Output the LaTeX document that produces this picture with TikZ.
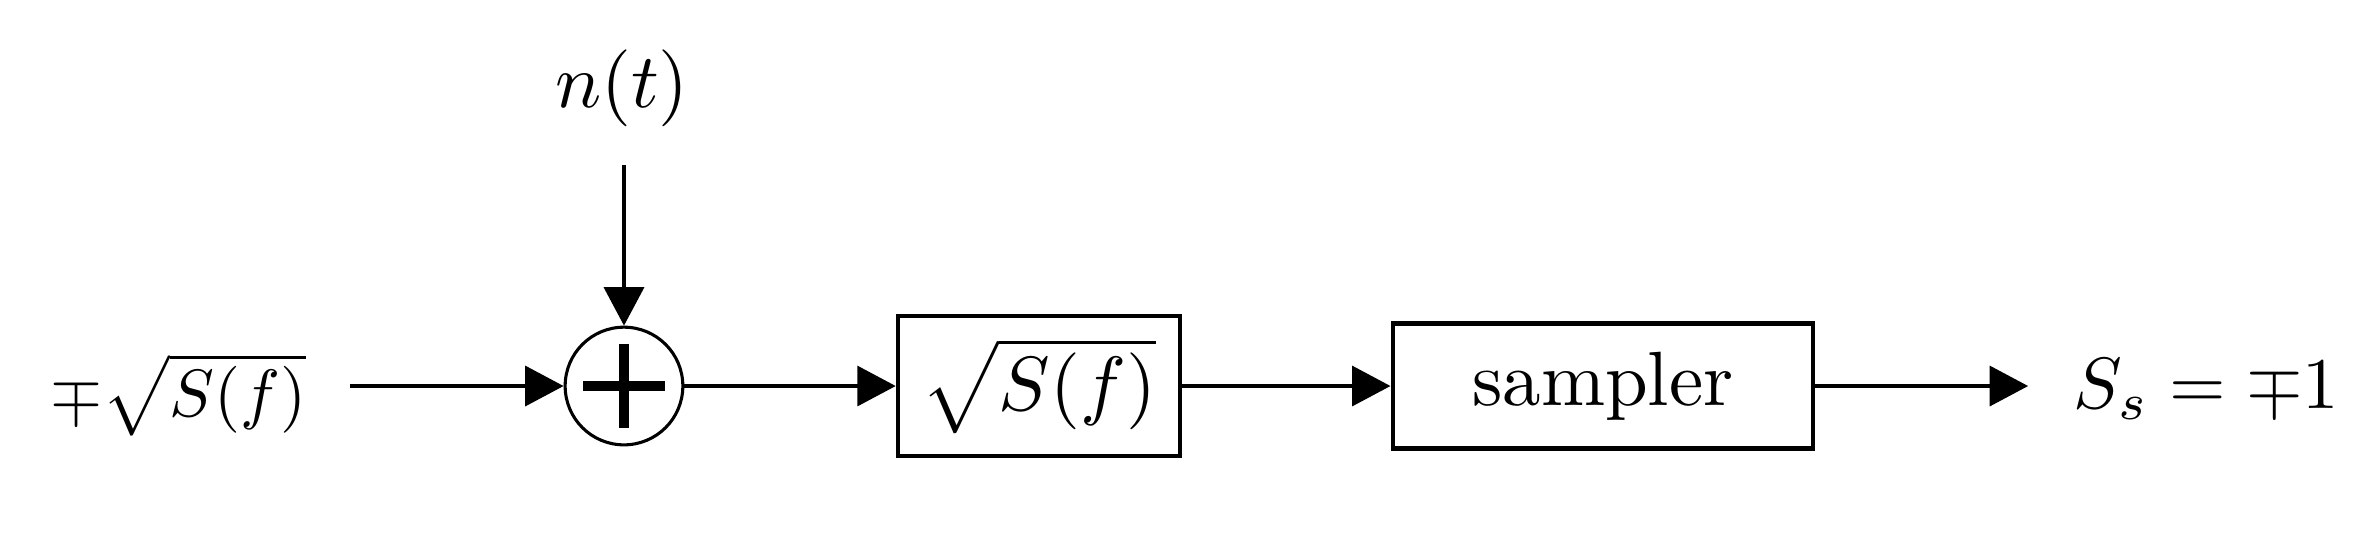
\documentclass[tikz,border=0pt]{standalone}
\usepackage{amsmath}
\usetikzlibrary{arrows.meta}
\begin{document}
\begin{tikzpicture}[x=0.13pt,y=-0.13pt,
  line width=0.45pt,
  arr/.style={-{Triangle[length=5pt,width=5.2pt]}},
  blockbox/.style={draw,line width=0.55pt,inner sep=0pt},
  lbl/.style={inner sep=0pt}]
\useasboundingbox (0,0) rectangle (2379,546);
% nodes
\node[lbl,anchor=east,scale=0.87] (in) at (308,395) {$\mp\sqrt{S(f)}$};
\node[draw,circle,minimum size=15.3pt,inner sep=0pt,line width=0.4pt] (sum) at (624,386) {};
\node[lbl] (noise) at (622,88) {$n(t)$};
\coordinate (ntop) at (624,165);
\node[blockbox,minimum width=36.7pt,minimum height=18.2pt] (filt) at (1039,386) {$\sqrt{S(f)}$};
\node[blockbox,minimum width=54.7pt,minimum height=16.25pt] (samp) at (1603,386) {sampler};
\node[lbl,anchor=west,scale=0.945] (out) at (2072,389) {$S_s = \mp 1$};
% plus sign
\draw[line width=1.3pt] ([xshift=-5.3pt]sum.center) -- ([xshift=5.3pt]sum.center);
\draw[line width=1.3pt] ([yshift=5.5pt]sum.center) -- ([yshift=-5.5pt]sum.center);
% connectors
\draw[arr,shorten <=5.46pt] (in.east |- sum.west) -- (sum.west);
\draw[arr] (ntop) -- (sum.north);
\draw[arr] (sum.east) -- (filt.west);
\draw[arr] (filt.east) -- (samp.west);
\draw[arr,shorten >=5.7pt] (samp.east) -- (samp.east -| out.west);
\end{tikzpicture}
\end{document}
